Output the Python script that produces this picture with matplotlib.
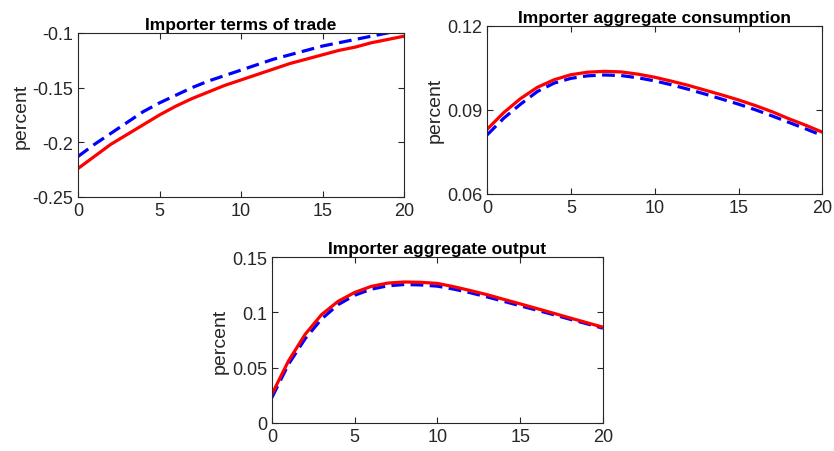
import numpy as np
from matplotlib import pyplot as plt

plt.rcParams['font.family'] = ['Liberation Sans', 'DejaVu Sans']

t = np.arange(0, 21)

# terms of trade
tot_red = [-0.224, -0.213, -0.202, -0.193, -0.184, -0.175, -0.167, -0.160, -0.154, -0.148, -0.143,
           -0.138, -0.133, -0.128, -0.124, -0.120, -0.116, -0.113, -0.109, -0.106, -0.103]
tot_blue = [-0.213, -0.202, -0.192, -0.182, -0.172, -0.164, -0.157, -0.150, -0.144, -0.139, -0.134,
            -0.129, -0.124, -0.120, -0.116, -0.112, -0.109, -0.106, -0.103, -0.100, -0.097]

# aggregate consumption
cons_red = [0.083, 0.089, 0.094, 0.098, 0.1007, 0.1025, 0.1034, 0.1037, 0.1035, 0.1027, 0.1016,
            0.1002, 0.0987, 0.0970, 0.0953, 0.0935, 0.0915, 0.0893, 0.0868, 0.0845, 0.0820]
cons_blue = [0.081, 0.087, 0.092, 0.0965, 0.0995, 0.1012, 0.1021, 0.1024, 0.1022, 0.1014, 0.1003,
             0.0989, 0.0973, 0.0956, 0.0938, 0.0920, 0.0900, 0.0878, 0.0855, 0.0832, 0.0808]

# aggregate output
out_red = [0.026, 0.056, 0.080, 0.098, 0.110, 0.118, 0.1235, 0.1265, 0.1275, 0.1272, 0.1262,
           0.1232, 0.1197, 0.1160, 0.1118, 0.1077, 0.1035, 0.0993, 0.0950, 0.0908, 0.0866]
out_blue = [0.023, 0.053, 0.076, 0.094, 0.107, 0.1155, 0.121, 0.124, 0.1252, 0.1248, 0.1237,
            0.1210, 0.1177, 0.1140, 0.1100, 0.1060, 0.1020, 0.0980, 0.0938, 0.0898, 0.0857]

fig = plt.figure(figsize=(8.34, 4.52), dpi=100)


def panel(rect, title, red, blue, ylim, yticks, yfmt):
    ax = fig.add_axes(rect)
    ax.plot(t, blue, color='blue', linestyle='--', linewidth=2.3, dashes=(4, 2))
    ax.plot(t, red, color='red', linewidth=2.3)
    ax.set_xlim(0, 20)
    ax.set_ylim(*ylim)
    ax.set_xticks([0, 5, 10, 15, 20])
    ax.set_yticks(yticks)
    ax.set_yticklabels([yfmt(v) for v in yticks])
    ax.tick_params(direction='in', top=True, right=True, labelsize=13,
                   colors='#262626', length=4, width=0.8)
    for s in ax.spines.values():
        s.set_color('#262626')
        s.set_linewidth(0.8)
    ax.set_title(title, fontsize=12.5, fontweight='bold', pad=3)
    ax.set_ylabel('percent', fontsize=14, color='#262626', labelpad=2)
    return ax


panel([0.0935, 0.562, 0.391, 0.363], 'Importer terms of trade', tot_red, tot_blue,
      (-0.25, -0.1), [-0.25, -0.2, -0.15, -0.1], lambda v: f'{v:g}')
panel([0.584, 0.569, 0.402, 0.372], 'Importer aggregate consumption', cons_red, cons_blue,
      (0.06, 0.12), [0.06, 0.09, 0.12], lambda v: f'{v:.2f}')
panel([0.326, 0.062, 0.397, 0.367], 'Importer aggregate output', out_red, out_blue,
      (0, 0.15), [0, 0.05, 0.1, 0.15], lambda v: f'{v:g}')

fig.savefig('out.png', dpi=100, facecolor='white')
